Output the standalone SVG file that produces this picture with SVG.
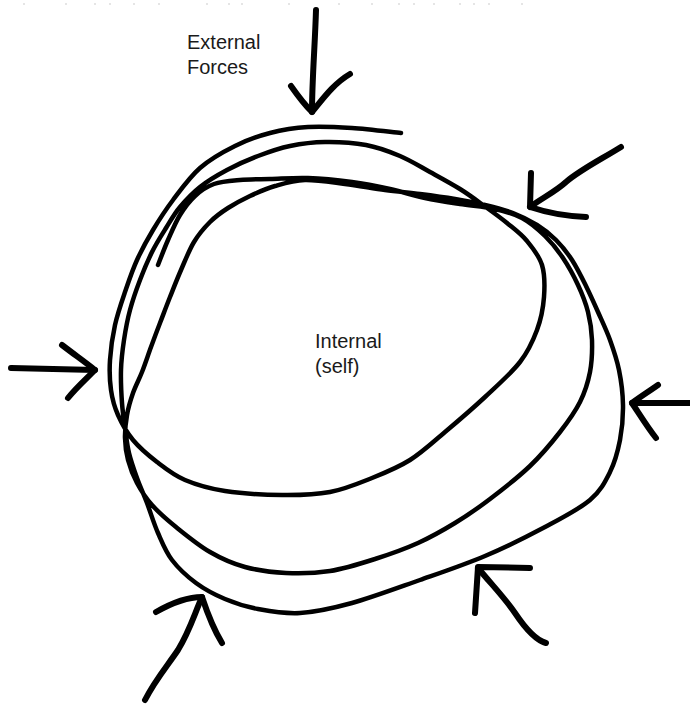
<svg xmlns="http://www.w3.org/2000/svg" width="690" height="704" viewBox="0 0 690 704">
  <style>
    .loop { fill: none; stroke: #000; stroke-width: 4.5; stroke-linecap: round; stroke-linejoin: round; }
    .arrow { fill: none; stroke: #000; stroke-width: 6; stroke-linecap: round; stroke-linejoin: round; }
    .label { font-family: "Liberation Sans", Arial, sans-serif; font-size: 20px; fill: #1a1a1a; }
    .dot { fill: #dcdcdc; }
  </style>
  <rect width="690" height="704" fill="#fff"/>

  <g id="top-dots">
    <circle class="dot" cx="24" cy="4" r="1"/><circle class="dot" cx="66" cy="4" r="1"/>
    <circle class="dot" cx="95" cy="4" r="1"/><circle class="dot" cx="110" cy="4" r="1"/>
    <circle class="dot" cx="134" cy="4" r="1"/><circle class="dot" cx="159" cy="4" r="1"/>
    <circle class="dot" cx="207" cy="4" r="1"/><circle class="dot" cx="229" cy="4" r="1"/>
    <circle class="dot" cx="242" cy="4" r="1"/><circle class="dot" cx="289" cy="4" r="1"/>
    <circle class="dot" cx="339" cy="4" r="1"/><circle class="dot" cx="372" cy="4" r="1"/>
    <circle class="dot" cx="399" cy="4" r="1"/><circle class="dot" cx="414" cy="4" r="1"/>
    <circle class="dot" cx="434" cy="4" r="1"/><circle class="dot" cx="460" cy="4" r="1"/>
    <circle class="dot" cx="474" cy="4" r="1"/><circle class="dot" cx="489" cy="4" r="1"/>
    <circle class="dot" cx="522" cy="4" r="1"/>
  </g>

  <g id="self-spiral">
    <path class="loop" d="M401,133 C392.8,132.2 367.5,129 352,128 S321.7,126.2 308,127 S282.2,129.8 270,133 S246.7,140.2 235,146 S210.3,159 200,168 S180.8,189.7 173,200 S159,220 153,230 S141.7,249.7 137,260 S128.7,281.2 125,292 S117.5,313.7 115,325 S110.7,349.2 110,360 S109.7,380.8 111,390 S114.3,406.7 118,415 S126.5,432.2 133,440 S148.3,455.3 157,462 S173.7,475.2 185,480 S208.8,488.5 225,491 S264.5,494.8 282,495 S315,494.8 330,492 S358.7,483.3 372,478 S397.8,467.7 410,460 S432.5,442.5 445,432 S472.5,408.7 485,397 S511.3,373.2 520,362 S533,340.8 537,330 S543.2,307.8 544,297 S544.8,274.3 542,265 S532.8,248 527,241 S514.3,229 507,223 S490.8,210.7 483,205 S468.8,194.5 460,189 S440,177.5 430,172 S410.7,160.5 400,156 S378.5,147.3 366,145 S337.7,141.8 325,142 S301.2,143.7 290,146 S268.5,152 258,156 S236.7,164.8 227,170 S207.8,180.8 200,187 S185.7,200.2 180,207 S170.7,220.5 166,228 S156.3,243.3 152,252 S143.7,270.3 140,280 S132.7,300 130,310 S125.5,330 124,340 S121.3,359.5 121,370 S121.3,393.3 122,403 S123.8,419.7 125,428 S127,444.7 129,453 S134,469.7 137,478 S143.5,493.8 147,503 S153.8,523.5 158,533 S165.7,551.7 172,560 S187.2,576.5 196,583 S214.7,594.7 225,599 S245.5,606.7 258,609 S284.3,614 300,613 S332,608.5 352,603 S397.8,587.8 420,580 S464.2,564.8 485,556 S527.5,536.3 545,527 S579.2,509.2 590,500 S605,482 610,472 S617.8,451.2 620,440 S623.2,416.7 623,405 S621.2,380.8 619,370 S613.5,349.7 610,340 S602,321 598,312 S590.3,294.7 586,286 S577,267.7 572,260 S561.8,245.8 556,240 S544.2,229.5 537,225 S521.7,216.3 513,213 S494.7,207.3 485,205 S465.8,200.8 455,199 S431.7,195.5 420,194 S397.5,191.7 385,190 S358.3,185.7 345,184 S316.7,179.7 305,180 S284.2,183.3 275,186 S257.8,192.3 250,196 S234.7,203.7 228,208 S215.7,216.3 210,222 S198.8,234 194,242 S185,260.8 181,270 S173.5,288.2 170,297 S163.2,314.7 160,323 S154,338.8 151,347 S145,364.3 142,372 S135.5,385.8 133,393 S128.3,407.5 127,415 S124.8,430.5 125,438 S126,452.5 128,460 S133,475.5 137,483 S145.5,497.7 152,505 S166.3,519.2 176,527 S198.5,545.3 210,552 S232.3,563.5 245,567 S271.8,572.3 286,573 S315.2,573.3 330,571 S360.3,563.7 375,559 S404.7,549 418,543 S443,530.3 455,523 S477.5,508.5 490,499 S518.3,477.2 530,466 S551.7,442.7 560,432 S575,412 580,402 S588,382.3 590,372 S592.3,350 592,340 S590.3,321.2 588,312 S582.2,294 578,285 S568.5,266.2 563,258 S551.8,242.7 545,236 S530.3,222.5 522,218 S505.3,211.3 495,209 S471.7,205.8 460,204 S436.7,200.5 425,198 S402.2,191.7 390,189 S365.7,183.8 352,182 S321.7,178.5 308,178 S281.3,178.7 270,179 S249.3,179.2 240,180 S221.5,181.3 214,184 S200.7,190.8 195,196 S184.5,207.7 180,215 S171.7,231.7 168,240 S159.7,260.8 158,265"/>
  </g>

  <g id="arrows">
    <g id="arrow-top">
      <path class="arrow" d="M316,10 C315,45 312,80 312,112"/>
      <path class="arrow" d="M291,86 C298,96 305,105 312,112 C322,100 333,84 350,74"/>
    </g>
    <g id="arrow-top-right">
      <path class="arrow" d="M621,147 C600,160 580,170 566,182 C555,192 542,198 530,207"/>
      <path class="arrow" d="M531,173 L530,207 C545,212 560,216 586,217"/>
    </g>
    <g id="arrow-left">
      <path class="arrow" d="M11,368 L95,370"/>
      <path class="arrow" d="M62,345 C75,355 85,362 95,370 C85,380 76,388 68,398"/>
    </g>
    <g id="arrow-right">
      <path class="arrow" d="M689,403 L632,403"/>
      <path class="arrow" d="M658,385 C648,392 640,397 632,403 C640,415 648,428 656,438"/>
    </g>
    <g id="arrow-bottom-left">
      <path class="arrow" d="M145,700 C155,680 168,665 178,650 C190,630 194,615 202,597"/>
      <path class="arrow" d="M156,612 C170,604 185,597 202,597 C208,615 214,630 222,643"/>
    </g>
    <g id="arrow-bottom-right">
      <path class="arrow" d="M475,613 L478,567 L530,568"/>
      <path class="arrow" d="M478,568 C492,585 504,597 515,613 C525,628 535,640 546,643"/>
    </g>
  </g>

  <g id="label-external">
    <text class="label" x="187" y="49">External</text>
    <text class="label" x="187" y="74">Forces</text>
  </g>
  <g id="label-internal">
    <text class="label" x="315" y="348">Internal</text>
    <text class="label" x="315" y="373">(self)</text>
  </g>
</svg>
